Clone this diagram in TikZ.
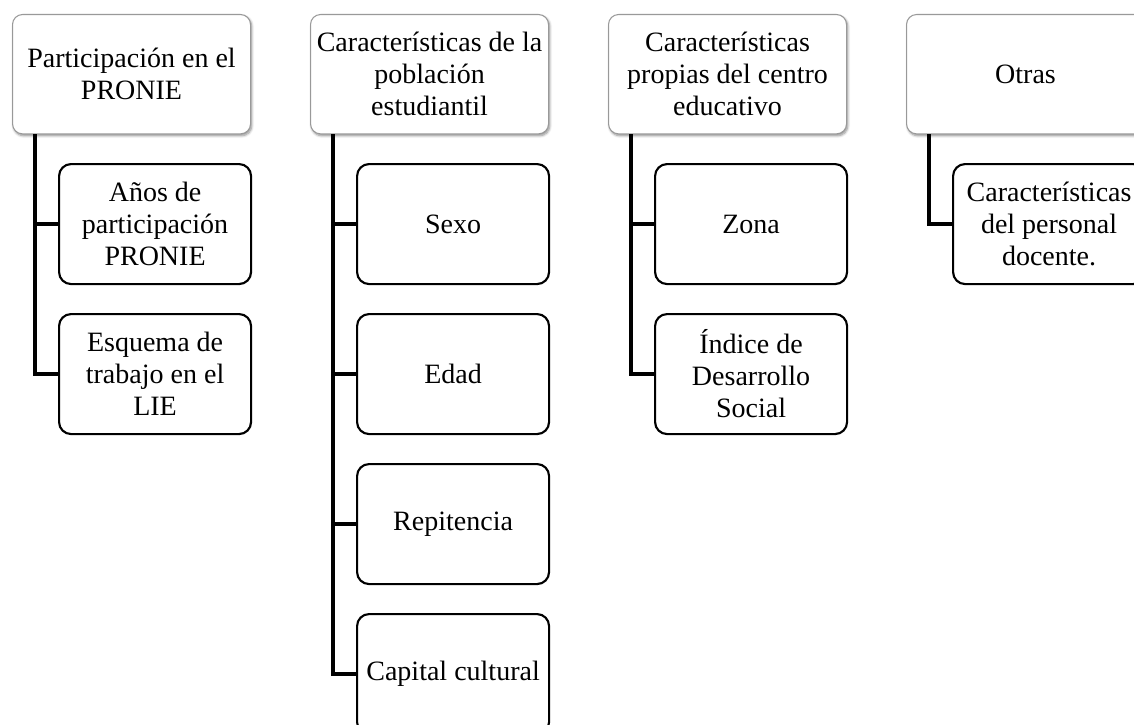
\documentclass[tikz,border=0pt]{standalone}
\usepackage{fontspec}
\setmainfont{Liberation Serif}
\usetikzlibrary{shadows.blur}

\begin{document}
\begin{tikzpicture}[x=0.75pt,y=-0.75pt,
  head/.style={draw=black!40, line width=0.8pt, fill=white,
    rounded corners=7.5pt, minimum width=178.5pt, minimum height=89.5pt,
    align=center, anchor=north west, inner sep=1.5pt,
    font=\fontsize{21}{24}\selectfont,
    blur shadow={shadow xshift=0.9pt, shadow yshift=-1.4pt,
      shadow blur steps=6, shadow opacity=45}},
  item/.style={draw=black, line width=1.6pt, fill=white,
    rounded corners=9pt, minimum width=144pt, minimum height=90pt,
    align=center, anchor=north west, inner sep=1.5pt,
    font=\fontsize{21}{24}\selectfont},
  link/.style={draw=black, line width=2.6pt}]

\useasboundingbox (0,0) rectangle (1134,724);
\clip (0,0) rectangle (1134,724);

% column 1
\node[head] (h1) at (12,14) {Participación en el\\PRONIE};
\node[item] (c1a) at (58,163) {Años de\\participación\\PRONIE};
\node[item] (c1b) at (58,313) {Esquema de\\trabajo en el\\LIE};

% column 2
\node[head] (h2) at (310,14) {Características de la\\población\\estudiantil};
\node[item] (c2a) at (356,163) {Sexo};
\node[item] (c2b) at (356,313) {Edad};
\node[item] (c2c) at (356,463) {Repitencia};
\node[item] (c2d) at (356,613) {Capital cultural};

% column 3
\node[head] (h3) at (608,14) {Características\\propias del centro\\educativo};
\node[item] (c3a) at (654,163) {Zona};
\node[item] (c3b) at (654,313) {Índice de\\Desarrollo\\Social};

% column 4
\node[head] (h4) at (906,14) {Otras};
\node[item] (c4a) at (952,163) {Características\\del personal\\docente.};

% elbow connectors from each heading down to its items
\foreach \h/\c in {h1/c1a, h1/c1b, h2/c2a, h2/c2b, h2/c2c, h2/c2d,
                   h3/c3a, h3/c3b, h4/c4a}
  \draw[link] (\h.south west) ++(23,0) |- (\c.west);

\end{tikzpicture}
\end{document}
